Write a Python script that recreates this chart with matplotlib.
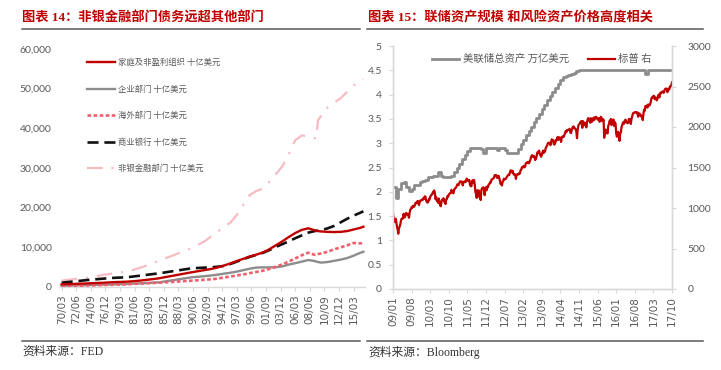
import matplotlib
matplotlib.use("Agg")
import matplotlib.pyplot as plt
import numpy as np
from matplotlib.ticker import FuncFormatter, MultipleLocator
from matplotlib.lines import Line2D

plt.rcParams['font.family'] = ['Noto Sans CJK SC', 'DejaVu Sans']

# ---------------- Left chart data (billion USD) ----------------
years = [1970, 1971, 1972, 1973, 1974, 1975, 1976, 1977, 1978, 1979,
         1980, 1981, 1982, 1983, 1984, 1985, 1986, 1987, 1988, 1989,
         1990, 1991, 1992, 1993, 1994, 1995, 1996, 1997, 1998, 1999,
         2000, 2001, 2002, 2003, 2004, 2005, 2006, 2007, 2008, 2009,
         2009.25, 2009.5, 2010, 2011, 2012, 2013, 2014, 2015, 2016, 2016.5]
household = [680, 720, 780, 850, 900, 980, 1050, 1130, 1220, 1280,
             1340, 1450, 1600, 1780, 1980, 2190, 2500, 2800, 3100, 3400,
             3700, 3980, 4260, 4530, 4900, 5400, 5950, 6550, 7100, 7700,
             8150, 8700, 9500, 10500, 11500, 12600, 13600, 14400, 14800, 14300,
             14200, 14100, 14000, 13900, 13850, 13900, 14100, 14500, 14900, 15200]
corporate = [330, 380, 420, 460, 500, 540, 580, 620, 670, 720,
             760, 840, 920, 1000, 1090, 1180, 1430, 1680, 1930, 2190,
             2440, 2580, 2720, 2900, 3100, 3360, 3600, 3880, 4250, 4620,
             4900, 4950, 4950, 4970, 5200, 5650, 6000, 6400, 6800, 6550,
             6400, 6300, 6150, 6300, 6600, 6900, 7300, 7900, 8600, 8900]
foreign = [250, 280, 310, 340, 380, 420, 470, 520, 570, 620,
           680, 760, 840, 920, 1000, 1080, 1180, 1280, 1380, 1490,
           1590, 1700, 1820, 1940, 2100, 2400, 2650, 2900, 3150, 3500,
           3800, 4100, 4550, 5100, 5700, 6400, 7200, 8000, 8650, 8100,
           8150, 8300, 8450, 8900, 9500, 10000, 10500, 11100, 11000, 11100]
banks = [1080, 1250, 1420, 1590, 1760, 1900, 2050, 2180, 2300, 2380,
         2440, 2640, 2840, 3040, 3250, 3450, 3700, 3950, 4200, 4450,
         4700, 4800, 4880, 4960, 5100, 5300, 5800, 6400, 7000, 7600,
         8100, 8600, 9300, 10100, 10800, 11500, 12300, 13000, 13700, 14100,
         14150, 14200, 14300, 14800, 15400, 16300, 17200, 18000, 18700, 19100]
nonbank = [1590, 1800, 2000, 2220, 2300, 2550, 2950, 3200, 3450, 3650,
           3850, 4300, 4800, 5350, 5950, 6620, 7250, 7850, 8500, 9100,
           9750, 10600, 11500, 12700, 13900, 15200, 16200, 18200, 20700, 23200,
           24200, 24800, 26500, 28400, 30400, 33500, 37000, 38200, 38000, 37500,
           37450, 42000, 43200, 45300, 46500, 47600, 49200, 50800, 51900, 52400]
left_labels = ['70/03', '72/06', '74/09', '76/12', '79/03', '81/06', '83/09',
               '85/12', '88/03', '90/06', '92/09', '94/12', '97/03', '99/06',
               '01/09', '03/12', '06/03', '08/06', '10/09', '12/12', '15/03']
left_series_names = ['家庭及非盈利组织 十亿美元', '企业部门 十亿美元', '海外部门 十亿美元',
                     '商业银行 十亿美元', '非银金融部门 十亿美元']

# ---------------- Right chart data ----------------
right_labels = ['09/01', '09/08', '10/03', '10/10', '11/05', '11/12', '12/07', '13/02',
                '13/09', '14/04', '14/11', '15/06', '16/01', '16/08', '17/03', '17/10']
# Fed total assets, trillion USD, monthly from 2009/01
fed_assets = [2.10, 1.88, 2.05, 2.18, 2.20, 2.10, 2.02, 2.05, 2.15, 2.15, 2.20, 2.22,
              2.25, 2.30, 2.30, 2.32, 2.32, 2.40, 2.32, 2.30, 2.30, 2.30, 2.32, 2.40,
              2.48, 2.58, 2.68, 2.76, 2.84, 2.90, 2.90, 2.90, 2.90, 2.88, 2.80, 2.90,
              2.90, 2.90, 2.90, 2.86, 2.90, 2.90, 2.85, 2.80, 2.80, 2.80, 2.80, 2.88,
              2.98, 3.07, 3.16, 3.25, 3.34, 3.43, 3.52, 3.61, 3.70, 3.79, 3.88, 3.97,
              4.06, 4.14, 4.22, 4.30, 4.36, 4.38, 4.40, 4.42, 4.45, 4.48, 4.50, 4.50,
              4.50, 4.50, 4.50, 4.50, 4.50, 4.50, 4.50, 4.50, 4.50, 4.50, 4.50, 4.50,
              4.50, 4.50, 4.50, 4.50, 4.50, 4.50, 4.50, 4.50, 4.50, 4.50, 4.50, 4.42,
              4.50, 4.50, 4.50, 4.50, 4.50, 4.50, 4.50, 4.50, 4.50, 4.50]
# S&P 500, roughly weekly (4 per month) from 2009/01
sp500 = [
    931, 870, 845, 826, 868, 827, 770, 735, 683, 756, 768, 798,
    843, 869, 866, 873, 929, 883, 887, 919, 940, 921, 918, 919,
    880, 940, 979, 987, 1010, 1004, 1028, 1020, 1016, 1042, 1064, 1057,
    1071, 1087, 1080, 1036, 1069, 1093, 1091, 1096, 1106, 1102, 1126, 1115,
    # 2010
    1144, 1136, 1092, 1074, 1066, 1075, 1109, 1104, 1138, 1150, 1166, 1169,
    1194, 1192, 1217, 1187, 1110, 1136, 1087, 1089, 1064, 1117, 1076, 1031,
    1022, 1078, 1102, 1101, 1121, 1079, 1071, 1049, 1104, 1109, 1148, 1141,
    1165, 1176, 1183, 1183, 1225, 1199, 1189, 1181, 1224, 1240, 1243, 1258,
    # 2011
    1271, 1293, 1283, 1286, 1311, 1329, 1320, 1327, 1321, 1279, 1313, 1326,
    1328, 1319, 1337, 1364, 1340, 1338, 1331, 1345, 1285, 1271, 1268, 1321,
    1344, 1316, 1346, 1292, 1199, 1178, 1124, 1219, 1154, 1216, 1136, 1131,
    1099, 1224, 1238, 1253, 1254, 1216, 1158, 1247, 1255, 1219, 1265, 1258,
    # 2012
    1289, 1293, 1316, 1312, 1345, 1351, 1362, 1366, 1370, 1404, 1397, 1408,
    1398, 1370, 1378, 1398, 1369, 1338, 1295, 1310, 1278, 1325, 1335, 1362,
    1354, 1357, 1362, 1379, 1390, 1405, 1411, 1407, 1437, 1465, 1460, 1441,
    1461, 1428, 1411, 1412, 1414, 1359, 1409, 1416, 1418, 1413, 1430, 1426,
    # 2013
    1466, 1472, 1502, 1498, 1513, 1520, 1502, 1515, 1551, 1560, 1556, 1569,
    1553, 1555, 1582, 1598, 1633, 1650, 1649, 1631, 1643, 1626, 1592, 1606,
    1631, 1680, 1692, 1686, 1709, 1661, 1663, 1633, 1655, 1688, 1709, 1682,
    1690, 1703, 1744, 1757, 1770, 1798, 1804, 1806, 1805, 1775, 1818, 1848,
    # 2014
    1842, 1838, 1790, 1783, 1797, 1838, 1836, 1859, 1878, 1841, 1866, 1872,
    1865, 1815, 1864, 1884, 1878, 1878, 1900, 1924, 1950, 1937, 1962, 1960,
    1967, 1968, 1978, 1931, 1925, 1955, 1988, 2003, 2007, 1985, 1983, 1972,
    1946, 1862, 1964, 2018, 2031, 2039, 2063, 2068, 2075, 1990, 2071, 2059,
    # 2015
    2044, 2020, 2051, 1995, 2055, 2094, 2110, 2105, 2071, 2053, 2108, 2068,
    2067, 2092, 2117, 2086, 2116, 2122, 2126, 2107, 2092, 2094, 2110, 2063,
    2077, 2126, 2079, 2104, 2078, 2091, 1867, 1972, 1921, 1961, 1931, 1920,
    2014, 2033, 2075, 2079, 2099, 2023, 2089, 2080, 2092, 2012, 2060, 2044,
    # 2016
    1922, 1880, 1906, 1940, 1880, 1829, 1917, 1932, 1999, 2022, 2050, 2060,
    2041, 2080, 2091, 2065, 2057, 2046, 2052, 2097, 2099, 2071, 2037, 2099,
    2129, 2161, 2175, 2174, 2182, 2184, 2183, 2171, 2179, 2127, 2164, 2168,
    2153, 2133, 2141, 2126, 2085, 2164, 2213, 2199, 2259, 2258, 2264, 2239,
    # 2017
    2277, 2275, 2265, 2279, 2307, 2351, 2367, 2364, 2383, 2385, 2344, 2363,
    2356, 2329, 2348, 2384, 2399, 2365, 2416, 2412, 2432, 2433, 2439, 2423,
    2426, 2459, 2473, 2470, 2474, 2430, 2443, 2472, 2466, 2500, 2502, 2519,
    2550]
right_series_names = ['美联储总资产 万亿美元', '标普 右']

# ---------------- Styling ----------------
TITLE_RED = '#C00000'
TXT_GRAY = '#595959'
AX_GRAY = '#D9D9D9'
RULE = '#595959'
title_font = ['Liberation Serif', 'Noto Sans CJK SC']
tick_font = ['Liberation Sans Narrow', 'Lato', 'DejaVu Sans']

W, H = 721, 370
fig = plt.figure(figsize=(W / 100, H / 100), dpi=100)

def fx(px):
    return px / W

def fy(py):
    return 1 - py / H

# titles, rules and sources
fig.text(fx(22), fy(18), '图表 14：非银金融部门债务远超其他部门', color=TITLE_RED,
         fontsize=9.5, fontweight='bold', family=title_font, va='center', ha='left')
fig.text(fx(368), fy(18), '图表 15：联储资产规模 和风险资产价格高度相关', color=TITLE_RED,
         fontsize=9.5, fontweight='bold', family=title_font, va='center', ha='left')
for (x0, x1) in [(22, 360), (367, 703)]:
    fig.add_artist(Line2D([fx(x0), fx(x1)], [fy(28.5), fy(28.5)], color=RULE, lw=1.1))
    fig.add_artist(Line2D([fx(x0), fx(x1)], [fy(340.5), fy(340.5)], color=RULE, lw=1.1))
fig.text(fx(22), fy(352), '资料来源：FED', color='#333333', fontsize=8.5,
         family=title_font, va='center', ha='left')
fig.text(fx(368), fy(352), '资料来源：Bloomberg', color='#333333', fontsize=8.5,
         family=title_font, va='center', ha='left')

# ---------------- Left chart ----------------
axL = fig.add_axes([fx(60), fy(287), fx(365 - 60), (287 - 49) / H])
xq = [(y - 1970) * 4 for y in years]
axL.plot(xq, household, color='#C00000', lw=1.7, label=left_series_names[0], zorder=5)
axL.plot(xq, corporate, color='#8C8C8C', lw=1.7, label=left_series_names[1], zorder=3)
axL.plot(xq, foreign, color='#F0606C', lw=1.9, ls=(0, (1.4, 0.9)), label=left_series_names[2], zorder=4)
axL.plot(xq, banks, color='#111111', lw=1.9, ls=(0, (4.2, 2.2)), label=left_series_names[3], zorder=4)
axL.plot(xq, nonbank, color='#F7BCC3', lw=1.6, ls=(0, (7, 4, 1, 4)), label=left_series_names[4], zorder=2)
axL.set_xlim(-1, 187)
axL.set_ylim(0, 60000)
axL.yaxis.set_major_locator(MultipleLocator(10000))
axL.yaxis.set_major_formatter(FuncFormatter(lambda v, p: f'{v:,.0f}'))
axL.set_xticks(np.arange(len(left_labels)) * 9)
axL.set_xticklabels(left_labels, rotation=90)
for s in ['top', 'right', 'left']:
    axL.spines[s].set_visible(False)
axL.spines['bottom'].set_color(AX_GRAY)
axL.spines['bottom'].set_linewidth(1.0)
axL.tick_params(axis='y', length=0, pad=6, labelsize=7.5, labelcolor=TXT_GRAY)
axL.tick_params(axis='x', length=3, color=AX_GRAY, pad=2, labelsize=7.5, labelcolor=TXT_GRAY)
for t in axL.get_yticklabels():
    t.set_family(tick_font)
for t in axL.get_xticklabels():
    t.set_family(['DejaVu Sans'])
legL = axL.legend(loc='upper left', bbox_to_anchor=(fx(87), fy(58)), bbox_transform=fig.transFigure,
                  frameon=False, fontsize=6, labelspacing=2.1, handlelength=3.3, handletextpad=0.45,
                  borderpad=0, borderaxespad=0)
for t in legL.get_texts():
    t.set_color(TXT_GRAY)

# ---------------- Right chart ----------------
axR = fig.add_axes([fx(393), fy(289), fx(672 - 393), (289 - 46) / H])
axR2 = axR.twinx()
xm_fed = np.arange(len(fed_assets))
xm_sp = np.arange(len(sp500)) / 4.0
l1, = axR.plot(xm_fed, fed_assets, color='#8C8C8C', lw=2.0, drawstyle='steps-post',
               label=right_series_names[0])
l2, = axR2.plot(xm_sp, sp500, color='#C00000', lw=1.6, label=right_series_names[1])
axR.set_xlim(0, 105)
axR.set_ylim(0, 5)
axR2.set_ylim(0, 3000)
axR.yaxis.set_major_locator(MultipleLocator(0.5))
axR.yaxis.set_major_formatter(FuncFormatter(lambda v, p: f'{v:g}'))
axR2.yaxis.set_major_locator(MultipleLocator(500))
axR2.yaxis.set_major_formatter(FuncFormatter(lambda v, p: f'{v:.0f}'))
axR.set_xticks(np.arange(len(right_labels)) * 7)
axR.set_xticklabels(right_labels, rotation=90)
for a in (axR, axR2):
    a.spines['top'].set_visible(False)
    for s in ['left', 'right', 'bottom']:
        a.spines[s].set_color(AX_GRAY)
        a.spines[s].set_linewidth(1.0)
axR.tick_params(axis='y', length=3, color=AX_GRAY, pad=5, labelsize=7.5, labelcolor=TXT_GRAY)
axR2.tick_params(axis='y', length=3, color=AX_GRAY, pad=8, labelsize=7.5, labelcolor=TXT_GRAY)
axR.tick_params(axis='x', length=3, color=AX_GRAY, pad=2, labelsize=7.5, labelcolor=TXT_GRAY)
for t in axR.get_yticklabels() + axR2.get_yticklabels():
    t.set_family(tick_font)
for t in axR.get_xticklabels():
    t.set_family(['DejaVu Sans'])
legR = axR2.legend([l1, l2], right_series_names, loc='upper left',
                   bbox_to_anchor=(fx(432), fy(54)), bbox_transform=fig.transFigure,
                   frameon=False, fontsize=7.5, ncol=2, handlelength=2.6, handletextpad=0.35,
                   columnspacing=1.8, borderpad=0, borderaxespad=0)
for t in legR.get_texts():
    t.set_color(TXT_GRAY)

fig.savefig('out.png', dpi=100)
